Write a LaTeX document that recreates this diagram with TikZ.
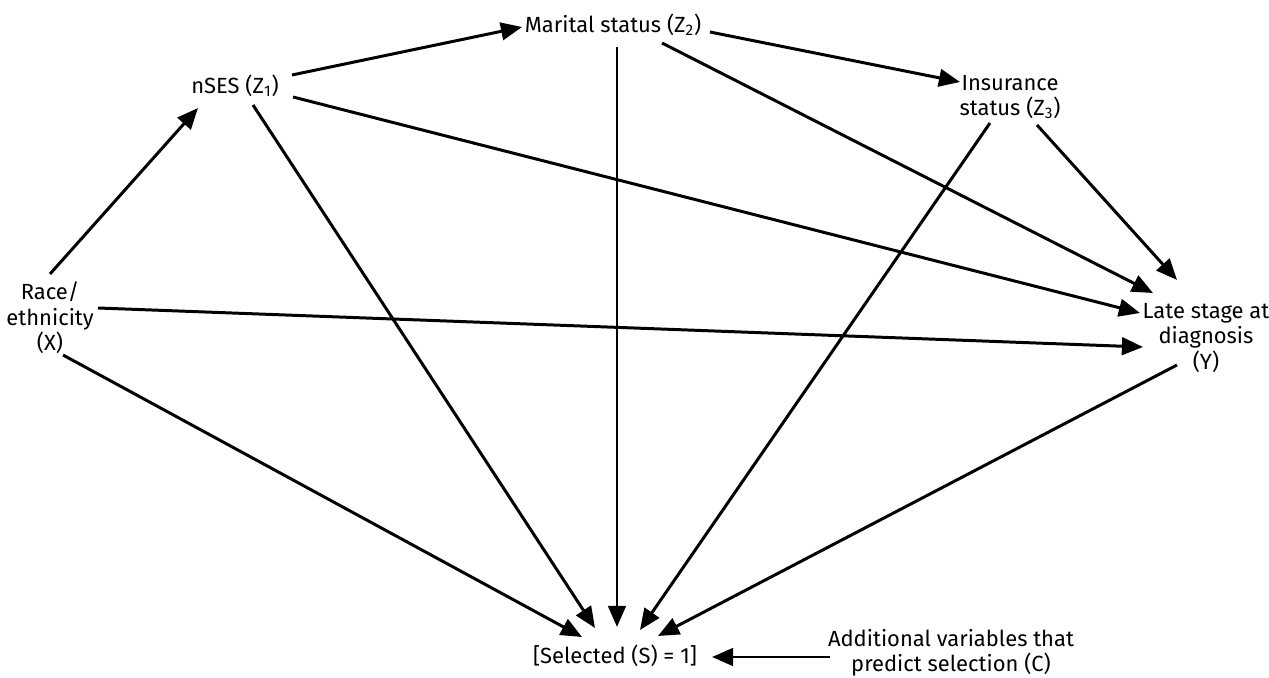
\documentclass[tikz,border=0pt]{standalone}
\usepackage{fontspec}
\setmainfont{Fira Sans}
\usepackage{tikz}
\usetikzlibrary{arrows.meta}

\begin{document}
\begin{tikzpicture}[x=0.02cm,y=-0.02cm]
\useasboundingbox (0,0) rectangle (1269,678);
\begin{scope}[every node/.style={align=center,inner sep=0pt,font=\fontsize{12.5}{14.5}\selectfont}]
    \node (Race) at (50,318) {Race/\\ethnicity\\(X)};
    \node (nSES) at (235,86) {nSES (Z\textsubscript{1})};
    \node (Marital) at (613,25) {Marital status (Z\textsubscript{2})};
    \node (Insurance) at (1010,97) {Insurance\\status (Z\textsubscript{3})};
    \node (Late) at (1206,338) {Late stage at\\diagnosis\\(Y)};
    \node (Selected) at (615,656) {[Selected (S) = 1]};
    \node (Additional) at (951,653) {Additional variables that\\predict selection (C)};
    \end{scope}

\begin{scope}[>={Triangle[length=12pt,width=10pt]},
              every path/.style={draw=black,line width=1.7pt}]
    \draw [->] ([shift={(0,-44)}]Race.center) -- ([shift={(-37,22)}]nSES.center);
    \draw [->] ([shift={(57,-11)}]nSES.center) -- ([shift={(-91,2)}]Marital.center);
    \draw [->] ([shift={(97,7)}]Marital.center) -- ([shift={(-50,-15)}]Insurance.center);
    \draw [->] ([shift={(18,19)}]nSES.center) -- ([shift={(-20,-28)}]Selected.center);
    \draw [->] ([shift={(58,11)}]nSES.center) -- ([shift={(-66,-25)}]Late.center);
    \draw [->] ([shift={(4,22)}]Marital.center) -- ([shift={(2,-29)}]Selected.center);
    \draw [->] ([shift={(49,18)}]Marital.center) -- ([shift={(-53,-45)}]Late.center);
    \draw [->] ([shift={(-20,26)}]Insurance.center) -- ([shift={(25,-26)}]Selected.center);
    \draw [->] ([shift={(27,28)}]Insurance.center) -- ([shift={(-29,-58)}]Late.center);
    \draw [->] ([shift={(48,-10)}]Race.center) -- ([shift={(-63,9)}]Late.center);
    \draw [->] ([shift={(13,37)}]Race.center) -- ([shift={(-33,-19)}]Selected.center);
    \draw [->] ([shift={(-29,27)}]Late.center) -- ([shift={(43,-20)}]Selected.center);
    \draw [->] ([shift={(-121,4)}]Additional.center) -- ([shift={(97,1)}]Selected.center);
    \end{scope}

\end{tikzpicture}
\end{document}
